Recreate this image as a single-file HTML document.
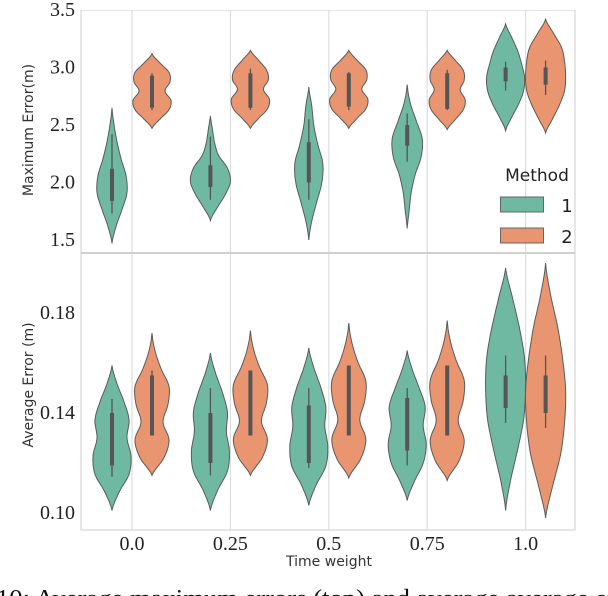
<!DOCTYPE html>
<html><head><meta charset="utf-8"><style>
body{margin:0;background:#fff;width:608px;height:596px;overflow:hidden}
svg{display:block}
.tk{font-family:"Liberation Serif",serif;font-size:20px;fill:#222}
.lb{font-family:"DejaVu Sans","Liberation Sans",sans-serif;font-size:14px;fill:#333}
</style></head><body>
<svg id="chart" width="608" height="596" viewBox="0 0 608 596" xmlns="http://www.w3.org/2000/svg"></svg>
<script>
const categories=["0.0","0.25","0.5","0.75","1.0"];
const topTicks=[1.5,2.0,2.5,3.0,3.5];
const botTicks=[0.10,0.14,0.18];
const topMin1=[1.47,1.67,1.50,1.60,2.45];
const topMax1=[2.65,2.58,2.83,2.85,3.38];
const topQ1_1=[1.84,1.96,2.00,2.32,2.88];
const topQ3_1=[2.12,2.15,2.35,2.50,3.00];
const topWlo1=[1.73,1.85,1.85,2.18,2.80];
const topWhi1=[2.42,2.40,2.55,2.60,3.05];
const topDens1=[[0,4,10,15,14,9,5,2,0],[0,7,15,20,17,8,4,2,0],[0,3,8,13,14,9,5,3,0],[0,2,4,8,14,15,9,3,0],[0,6,13,18,19,16,12,6,0]];
const topMin2=[2.47,2.47,2.47,2.46,2.43];
const topMax2=[3.12,3.15,3.15,3.15,3.42];
const topQ1_2=[2.65,2.65,2.66,2.64,2.85];
const topQ3_2=[2.93,2.95,2.95,2.95,3.00];
const topWlo2=[2.63,2.63,2.63,2.63,2.76];
const topWhi2=[2.95,2.99,2.96,2.98,3.06];
const topDens2=[[0,8,17,19,13,18,17,8,0],[0,8,17,19,13,18,16,8,0],[0,8,17,19,13,18,17,8,0],[0,8,16,18,13,17,16,8,0],[0,7,14,19,20,19,16,8,0]];
const botMin1=[0.101,0.101,0.103,0.105,0.101];
const botMax1=[0.159,0.164,0.166,0.165,0.198];
const botQ1_1=[0.119,0.120,0.120,0.125,0.142];
const botQ3_1=[0.140,0.140,0.143,0.146,0.155];
const botWlo1=[0.1145,0.115,0.118,0.119,0.136];
const botWhi1=[0.1456,0.150,0.150,0.150,0.163];
const botDens1=[[0,7,17,19,15,17,12,5,0],[0,7,17,19,16,17,12,5,0],[0,7,17,19,16,17,12,5,0],[0,7,16,19,16,18,12,5,0],[0,5,12,18,20,19,14,7,0]];
const botMin2=[0.115,0.115,0.114,0.113,0.098];
const botMax2=[0.172,0.173,0.176,0.177,0.200];
const botQ1_2=[0.131,0.131,0.131,0.131,0.140];
const botQ3_2=[0.155,0.157,0.159,0.159,0.155];
const botWlo2=[0.131,0.131,0.131,0.131,0.134];
const botWhi2=[0.157,0.157,0.159,0.159,0.163];
const botDens2=[[0,12,17,11,16,17,9,3,0],[0,12,17,11,16,17,9,3,0],[0,12,17,11,16,17,9,3,0],[0,12,17,11,16,17,9,3,0],[0,7,15,19,20,17,12,5,0]];

const svg=document.getElementById('chart');
const NS="http://www.w3.org/2000/svg";
function mk(tag,attrs,parent){const e=document.createElementNS(NS,tag);for(const k in attrs)e.setAttribute(k,attrs[k]);(parent||svg).appendChild(e);return e;}
const L=81,R=575;
const xC=i=>132+i*98.4;
const yTop=v=>10+(3.5-v)*115;
const yBot=v=>513-(v-0.10)*2500;
const G="#6fb9a2",O="#e9956f";

function panel(t,b,name){
  const g=mk('g',{});
  
  
  categories.forEach((c,i)=>{const l=mk('line',{x1:xC(i),x2:xC(i),y1:t,y2:b,stroke:'#ddd','stroke-width':1.2},g);
    
    });
  const r=mk('rect',{x:L,y:t,width:R-L,height:b-t,fill:'none',stroke:'#d6d6d6','stroke-width':1.2},g);
  
  
  return g;
}
panel(10,253,'top-panel');
panel(253,530,'bottom-panel');

function violin(cx,yf,mn,mx,dens,q1,q3,wl,wh,col,name){
  const g=mk('g',{});
  
  
  const n=dens.length,pts=[],steps=80;
  for(let s=0;s<=steps;s++){
    const u=s/steps*(n-1),k=Math.min(Math.floor(u),n-2),f=u-k;
    const p0=dens[Math.max(k-1,0)],p1=dens[k],p2=dens[k+1],p3=dens[Math.min(k+2,n-1)];
    const w=Math.max(0,0.5*((2*p1)+(-p0+p2)*f+(2*p0-5*p1+4*p2-p3)*f*f+(-p0+3*p1-3*p2+p3)*f*f*f));
    const v=mn+(mx-mn)*s/steps;pts.push([w,yf(v)]);
  }
  let d='M'+pts.map(p=>(cx+p[0]).toFixed(1)+','+p[1].toFixed(1)).join('L');
  d+='L'+pts.slice().reverse().map(p=>(cx-p[0]).toFixed(1)+','+p[1].toFixed(1)).join('L')+'Z';
  const p=mk('path',{d:d,fill:col,stroke:'#5a5a5a','stroke-width':1},g);
  
  
  const w=mk('line',{x1:cx,x2:cx,y1:yf(wl),y2:yf(wh),stroke:'#555','stroke-width':1.3},g);
  
  
  const b=mk('line',{x1:cx,x2:cx,y1:yf(q1),y2:yf(q3),stroke:'#555','stroke-width':4},g);
  
  
}
categories.forEach((c,i)=>{
  violin(xC(i)-20,yTop,topMin1[i],topMax1[i],topDens1[i],topQ1_1[i],topQ3_1[i],topWlo1[i],topWhi1[i],G,'top-violin-m1-'+c);
  violin(xC(i)+20,yTop,topMin2[i],topMax2[i],topDens2[i],topQ1_2[i],topQ3_2[i],topWlo2[i],topWhi2[i],O,'top-violin-m2-'+c);
  violin(xC(i)-20,yBot,botMin1[i],botMax1[i],botDens1[i],botQ1_1[i],botQ3_1[i],botWlo1[i],botWhi1[i],G,'bottom-violin-m1-'+c);
  violin(xC(i)+20,yBot,botMin2[i],botMax2[i],botDens2[i],botQ1_2[i],botQ3_2[i],botWlo2[i],botWhi2[i],O,'bottom-violin-m2-'+c);
});
mk('rect',{x:0,y:0,width:608,height:10,fill:'#fff'});
mk('line',{x1:L,x2:R,y1:253,y2:253,stroke:'#d0d0d0','stroke-width':2});

function txt(x,y,s,cls,name,anchor,rot){
  const t=mk('text',{x:x,y:y,class:cls,'text-anchor':anchor||'middle'});
  if(rot)t.setAttribute('transform','rotate(-90 '+x+' '+y+')');
  t.textContent=s;
  
  
  return t;
}
topTicks.forEach(v=>txt(75,yTop(v)+6,v.toFixed(1),'tk','y-tick-top-'+v,'end'));
botTicks.forEach(v=>txt(75,yBot(v)+6,v.toFixed(2),'tk','y-tick-bottom-'+v,'end'));
categories.forEach((c,i)=>txt(xC(i),550,c,'tk','x-tick-'+c));
txt(33,130,'Maximum Error(m)','lb','y-axis-title-top','middle',true);
txt(33,385,'Average Error (m)','lb','y-axis-title-bottom','middle',true);
txt(329,566,'Time weight','lb','x-axis-title');
const lg=mk('g',{});


const lt=mk('text',{x:537,y:181,'text-anchor':'middle','font-family':'DejaVu Sans, Liberation Sans, sans-serif','font-size':17,fill:'#222'},lg);
lt.textContent='Method';


[['1',G,197],['2',O,228]].forEach(([s,c,y])=>{
  const r=mk('rect',{x:500.5,y:y,width:43,height:15,fill:c,stroke:'#666','stroke-width':1},lg);
  
  
  const t=mk('text',{x:567,y:y+15,'text-anchor':'middle','font-family':'DejaVu Sans, Liberation Sans, sans-serif','font-size':18,fill:'#222'},lg);
  t.textContent=s;
  
  
});
const cap=mk('text',{x:-4,y:606,'font-family':'Liberation Serif, serif','font-size':24,fill:'#111',textLength:620,lengthAdjust:'spacingAndGlyphs'});
cap.textContent='10: Average maximum errors (top) and average average er';


</script>
</body></html>
